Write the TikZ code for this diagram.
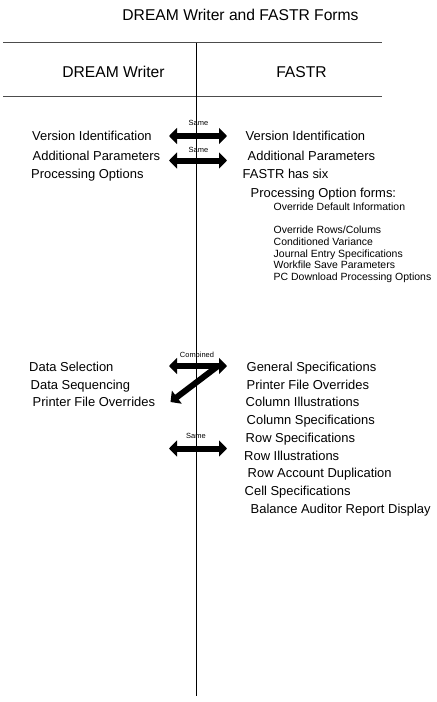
\documentclass[tikz,border=0pt]{standalone}
\usepackage{fontspec}
\setmainfont{Liberation Sans}
\usetikzlibrary{arrows.meta}
\begin{document}
\begin{tikzpicture}[x=1bp,y=-1bp,
  item/.style={anchor=west,inner sep=0pt,font=\fontsize{13}{15}\selectfont,text height=9.3bp,text depth=0pt},
  small/.style={anchor=west,inner sep=0pt,font=\fontsize{10.5}{12}\selectfont,text height=7.5bp,text depth=0pt},
  headtext/.style={inner sep=0pt,font=\fontsize{15.7}{18}\selectfont,text height=11.3bp,text depth=0pt},
  tag/.style={inner sep=0pt,font=\fontsize{7.5}{9}\selectfont,text height=5.4bp,text depth=0pt},
  rule/.style={draw=black!70,line width=1bp},
  divider/.style={draw=black,line width=1bp},
  bigarrow/.style={line width=6bp,{Triangle[length=8bp,width=16bp]}-{Triangle[length=8bp,width=16bp]}},
  onearrow/.style={line width=6bp,-{Triangle[length=8bp,width=16bp]}}
]
\useasboundingbox (0,0) rectangle (437,702);

% title and header
\node[headtext] (title) at (240.5,15) {DREAM Writer and FASTR Forms};
\coordinate (r1l) at (3,43);
\coordinate (r1r) at (382,43);
\coordinate (r2l) at (3,96.5);
\coordinate (r2r) at (382,96.5);
\draw[rule] (r1l) -- (r1r);
\draw[rule] (r2l) -- (r2r);
\coordinate (vtop) at (196.5,43);
\coordinate (vbot) at (196.5,696);
\draw[divider] (vtop) -- (vbot);
\node[headtext] (hdw) at (113.5,72) {DREAM Writer};
\node[headtext] (hfa) at (301.5,72) {FASTR};

% left column
\node[item] (l1) at (32,136) {Version Identification};
\node[item] (l2) at (32.5,155.5) {Additional Parameters};
\node[item] (l3) at (31,174) {Processing Options};
\node[item] (l4) at (29,366.5) {Data Selection};
\node[item] (l5) at (30.5,384.5) {Data Sequencing};
\node[item] (l6) at (32.5,401.5) {Printer File Overrides};

% right column
\node[item] (r1) at (245.5,136) {Version Identification};
\node[item] (r2) at (247.5,155.5) {Additional Parameters};
\node[item] (r3) at (242.5,174) {FASTR has six};
\node[item] (r4) at (250.5,193) {Processing Option forms:};
\node[small] (s1) at (273.5,207) {Override Default Information};
\node[small] (s2) at (273.5,229.5) {Override Rows/Colums};
\node[small] (s3) at (273.5,241.5) {Conditioned Variance};
\node[small] (s4) at (273.5,253.5) {Journal Entry Specifications};
\node[small] (s5) at (273.5,265) {Workfile Save Parameters};
\node[small] (s6) at (273.5,277) {PC Download Processing Options};
\node[item] (r5) at (246.5,366.5) {General Specifications};
\node[item] (r6) at (246.5,384.5) {Printer File Overrides};
\node[item] (r7) at (245.5,401.5) {Column Illustrations};
\node[item] (r8) at (246.5,419.5) {Column Specifications};
\node[item] (r9) at (245.5,437.5) {Row Specifications};
\node[item] (r10) at (244,455.5) {Row Illustrations};
\node[item] (r11) at (247.5,472.5) {Row Account Duplication};
\node[item] (r12) at (244.5,490.5) {Cell Specifications};
\node[item] (r13) at (250.5,508.5) {Balance Auditor Report Display};

% arrows
\coordinate (a1l) at (169,136);
\coordinate (a1r) at (227,136);
\coordinate (a2l) at (169,160.5);
\coordinate (a2r) at (227,160.5);
\coordinate (a3l) at (169,366);
\coordinate (a3r) at (227,366);
\coordinate (a3s) at (218,366);
\coordinate (a3d) at (170.5,402);
\coordinate (a4l) at (169,448.5);
\coordinate (a4r) at (227,448.5);
\draw[bigarrow] (a1l) -- (a1r);
\draw[bigarrow] (a2l) -- (a2r);
\draw[bigarrow] (a3l) -- (a3r);
\draw[onearrow] (a3s) -- (a3d);
\draw[bigarrow] (a4l) -- (a4r);

% arrow labels
\node[tag] (t1) at (198.5,122.5) {Same};
\node[tag] (t2) at (198.5,150) {Same};
\node[tag] (t3) at (197,355) {Combined};
\node[tag] (t4) at (196,436) {Same};
\end{tikzpicture}
\end{document}
